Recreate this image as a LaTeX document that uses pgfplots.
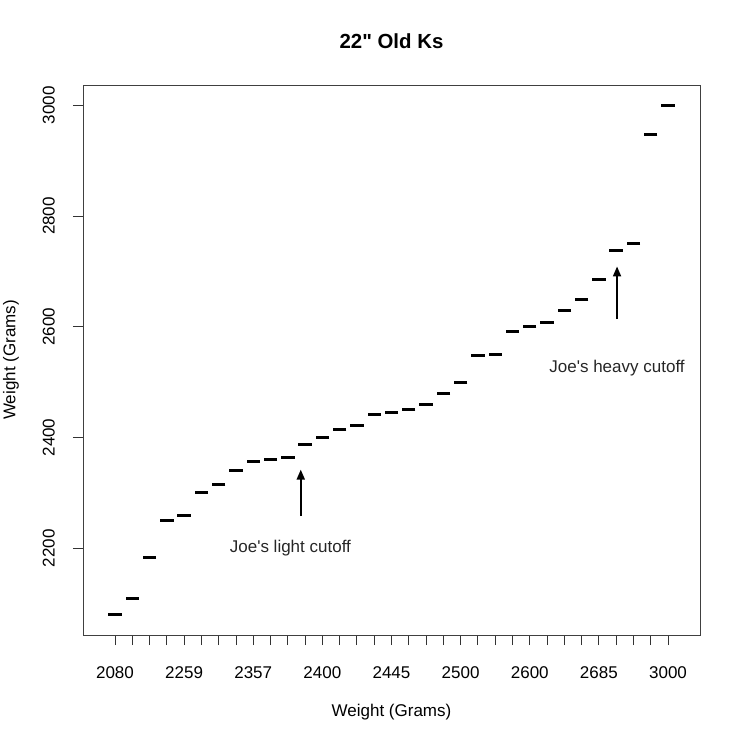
\documentclass[border=0pt]{standalone}
\usepackage{fontspec}
\setmainfont{Liberation Sans}[Ligatures=TeXOff]
\usepackage{pgfplots}
\pgfplotsset{compat=1.18}
\usetikzlibrary{arrows.meta}
\begin{document}
\begin{tikzpicture}[x=1pt,y=1pt]
\path[use as bounding box] (0,0) rectangle (744,742);
\begin{axis}[
  at={(83pt,107pt)}, anchor=south west,
  scale only axis, width=617pt, height=550pt,
  xmin=-1.85, xmax=33.85, ymin=2043.2, ymax=3036.8,
  axis line style={black!75, line width=0.9pt},
  tick align=outside, tick pos=left, major tick length=10pt,
  tick style={black!80, line width=0.9pt},
  xtick={0,...,32},
  xticklabels={2080,,,,2259,,,,2357,,,,2400,,,,2445,,,,2500,,,,2600,,,,2685,,,,3000},
  ytick={2200,2400,2600,2800,3000},
  yticklabels={2200,2400,2600,2800,3000},
  every tick label/.append style={font=\fontsize{17}{20}\selectfont},
  xticklabel style={anchor=north, yshift=-18pt},
  yticklabel style={rotate=90, anchor=south, yshift=14.7pt},
  clip=false,
]
\addplot[only marks, mark=-, mark size=6.7pt, mark options={line width=3pt, line cap=butt, black}]
coordinates {
(0,2080) (1,2110) (2,2183) (3,2250) (4,2259) (5,2300) (6,2315) (7,2340)
(8,2357) (9,2360) (10,2363) (11,2388) (12,2400) (13,2414) (14,2421) (15,2441)
(16,2445) (17,2450) (18,2460) (19,2480) (20,2500) (21,2548) (22,2550) (23,2591)
(24,2600) (25,2607) (26,2630) (27,2650) (28,2685) (29,2738) (30,2750) (31,2948)
(32,3000)
};
\draw[-{Triangle[length=10pt,width=8pt]}, line width=1.8pt] (axis cs:10.75,2258) -- (axis cs:10.75,2342);
\draw[-{Triangle[length=10pt,width=8pt]}, line width=1.8pt] (axis cs:29.05,2614) -- (axis cs:29.05,2709);
\node[font=\fontsize{17}{20}\selectfont, text=black!85] at (axis cs:10.15,2200) {Joe's light cutoff};
\node[font=\fontsize{17}{20}\selectfont, text=black!85] at (axis cs:29.05,2526) {Joe's heavy cutoff};
\end{axis}
\node[font=\bfseries\fontsize{20.4}{24}\selectfont] at (391.5,701) {22" Old Ks};
\node[font=\fontsize{17}{20}\selectfont] at (391.5,30) {Weight (Grams)};
\node[font=\fontsize{17}{20}\selectfont, rotate=90] at (11,382) {Weight (Grams)};
\end{tikzpicture}
\end{document}
